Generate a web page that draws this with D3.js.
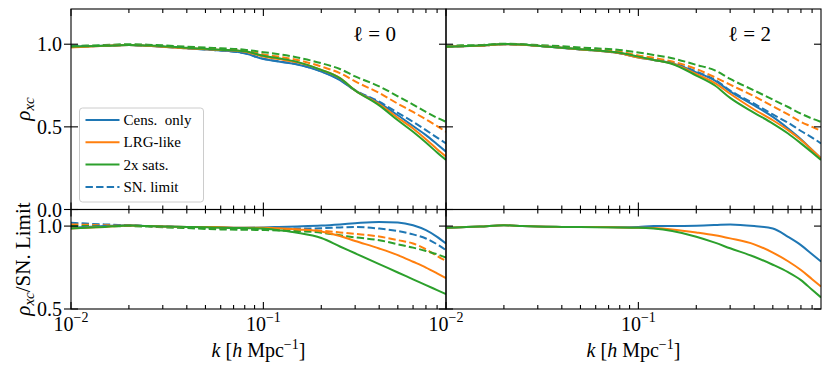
<!DOCTYPE html>
<html>
<head>
<meta charset="utf-8">
<script src="https://cdn.jsdelivr.net/npm/d3@7/dist/d3.min.js"></script>
<style>
  body { margin: 0; background: #fff; }
  text { font-family: "Liberation Serif", "DejaVu Serif", serif; fill: #000; }
</style>
</head>
<body>
<div id="chart"></div>
<script>
// k grid shared by every curve
var kValues = [0.01, 0.012, 0.015, 0.02, 0.025, 0.03, 0.04, 0.05, 0.06, 0.08, 0.1, 0.12, 0.15, 0.2, 0.25, 0.3, 0.4, 0.5, 0.6, 0.7, 0.8, 0.89];

// ell = 0, rho_xc
var l0Cens   = [0.985, 0.987, 0.99, 0.995, 0.99, 0.985, 0.975, 0.968, 0.962, 0.945, 0.91, 0.895, 0.877, 0.835, 0.783, 0.72, 0.645, 0.57, 0.505, 0.45, 0.395, 0.35];
var l0Lrg    = [0.98, 0.985, 0.99, 0.995, 0.99, 0.985, 0.975, 0.97, 0.965, 0.955, 0.925, 0.91, 0.89, 0.845, 0.795, 0.72, 0.638, 0.555, 0.49, 0.425, 0.365, 0.32];
var l0Sats   = [0.985, 0.988, 0.99, 0.995, 0.992, 0.988, 0.978, 0.972, 0.967, 0.957, 0.93, 0.915, 0.893, 0.845, 0.795, 0.72, 0.63, 0.54, 0.47, 0.405, 0.345, 0.30];
var l0CensSN = [0.985, 0.987, 0.99, 0.995, 0.99, 0.985, 0.975, 0.968, 0.962, 0.945, 0.912, 0.897, 0.878, 0.836, 0.785, 0.722, 0.652, 0.585, 0.53, 0.48, 0.435, 0.40];
var l0LrgSN  = [0.985, 0.988, 0.99, 0.995, 0.992, 0.988, 0.978, 0.973, 0.968, 0.96, 0.938, 0.925, 0.905, 0.865, 0.825, 0.775, 0.705, 0.64, 0.59, 0.545, 0.505, 0.47];
var l0SatsSN = [0.99, 0.992, 0.995, 1.0, 0.997, 0.993, 0.985, 0.98, 0.975, 0.967, 0.952, 0.94, 0.92, 0.885, 0.85, 0.805, 0.745, 0.685, 0.635, 0.59, 0.555, 0.53];

// ell = 2, rho_xc
var l2Cens   = [0.985, 0.988, 0.99, 1.0, 0.997, 0.99, 0.978, 0.968, 0.962, 0.945, 0.92, 0.905, 0.885, 0.83, 0.78, 0.715, 0.63, 0.56, 0.49, 0.425, 0.36, 0.31];
var l2Lrg    = [0.985, 0.988, 0.99, 1.0, 0.997, 0.99, 0.978, 0.968, 0.962, 0.945, 0.92, 0.905, 0.883, 0.82, 0.765, 0.70, 0.605, 0.54, 0.48, 0.42, 0.36, 0.31];
var l2Sats   = [0.985, 0.988, 0.992, 1.002, 0.998, 0.99, 0.978, 0.97, 0.963, 0.948, 0.925, 0.905, 0.88, 0.81, 0.75, 0.675, 0.585, 0.52, 0.46, 0.40, 0.345, 0.30];
var l2CensSN = [0.985, 0.988, 0.99, 1.0, 0.997, 0.99, 0.978, 0.968, 0.962, 0.945, 0.922, 0.907, 0.887, 0.835, 0.785, 0.72, 0.64, 0.575, 0.525, 0.475, 0.435, 0.40];
var l2LrgSN  = [0.985, 0.988, 0.99, 1.0, 0.997, 0.99, 0.98, 0.973, 0.968, 0.955, 0.932, 0.918, 0.895, 0.85, 0.80, 0.755, 0.685, 0.625, 0.575, 0.53, 0.50, 0.475];
var l2SatsSN = [0.99, 0.993, 0.995, 1.003, 1.0, 0.995, 0.988, 0.98, 0.975, 0.965, 0.95, 0.935, 0.915, 0.875, 0.842, 0.79, 0.72, 0.665, 0.62, 0.58, 0.55, 0.53];

// ell = 0, ratio to SN. limit
var r0Cens   = [0.99, 0.995, 1.0, 1.005, 1.0, 0.998, 0.995, 0.995, 0.993, 0.99, 0.992, 0.995, 0.998, 1.003, 1.01, 1.017, 1.025, 1.022, 1.005, 0.975, 0.935, 0.895];
var r0Lrg    = [0.985, 0.99, 0.995, 1.003, 1.0, 0.997, 0.995, 0.995, 0.993, 0.99, 0.99, 0.987, 0.98, 0.968, 0.94, 0.91, 0.865, 0.825, 0.785, 0.75, 0.715, 0.686];
var r0Sats   = [0.985, 0.99, 0.995, 1.003, 1.0, 0.997, 0.995, 0.993, 0.99, 0.988, 0.985, 0.975, 0.96, 0.928, 0.877, 0.836, 0.771, 0.72, 0.679, 0.644, 0.614, 0.59];
var r0CensSN = [1.02, 1.015, 1.01, 1.005, 1.0, 0.998, 0.993, 0.99, 0.988, 0.985, 0.983, 0.984, 0.985, 0.987, 0.992, 0.995, 0.985, 0.97, 0.95, 0.925, 0.89, 0.855];
var r0LrgSN  = [1.01, 1.008, 1.005, 1.003, 1.0, 0.997, 0.993, 0.99, 0.988, 0.986, 0.985, 0.983, 0.98, 0.972, 0.962, 0.953, 0.937, 0.915, 0.895, 0.86, 0.82, 0.79];
var r0SatsSN = [1.0, 1.0, 0.998, 1.0, 0.997, 0.993, 0.988, 0.983, 0.98, 0.978, 0.976, 0.974, 0.97, 0.96, 0.945, 0.932, 0.915, 0.89, 0.87, 0.85, 0.83, 0.81];

// ell = 2, ratio to SN. limit
var r2Cens   = [0.99, 0.993, 0.997, 1.005, 1.0, 0.997, 0.995, 0.995, 0.995, 0.993, 0.995, 1.0, 1.0, 1.002, 1.006, 1.01, 1.0, 0.985, 0.935, 0.885, 0.83, 0.786];
var r2Lrg    = [0.99, 0.993, 0.997, 1.005, 1.0, 0.997, 0.995, 0.995, 0.994, 0.992, 0.99, 0.988, 0.98, 0.962, 0.945, 0.926, 0.89, 0.84, 0.788, 0.735, 0.68, 0.636];
var r2Sats   = [0.99, 0.993, 0.997, 1.005, 1.0, 0.997, 0.995, 0.994, 0.993, 0.991, 0.99, 0.985, 0.97, 0.936, 0.90, 0.866, 0.815, 0.767, 0.722, 0.674, 0.616, 0.57];

var legendLabels = ["Cens.  only", "LRG-like", "2x sats.", "SN. limit"];
var colors = ["#1f77b4", "#ff7f0e", "#2ca02c"];

var width = 831, height = 375;
var kDomain = [0.01, 0.89];

var svg = d3.select("#chart").append("svg")
  .attr("width", width).attr("height", height);
svg.append("rect").attr("width", width).attr("height", height).attr("fill", "#fff");

var colLeft = [71, 446], colRight = [446, 821];
var rowTop = [9, 209.5], rowBot = [209.5, 309];

var panels = [
  { id: "tl", xr: colLeft,  yr: rowTop, ydom: [0, 1.213], yticks: [0, 0.5, 1.0], first: true,  bottom: false,
    solid: [l0Cens, l0Lrg, l0Sats], dashed: [l0CensSN, l0LrgSN, l0SatsSN], note: "\u2113 = 0" },
  { id: "tr", xr: colRight, yr: rowTop, ydom: [0, 1.213], yticks: [0, 0.5, 1.0], first: false, bottom: false,
    solid: [l2Cens, l2Lrg, l2Sats], dashed: [l2CensSN, l2LrgSN, l2SatsSN], note: "\u2113 = 2" },
  { id: "bl", xr: colLeft,  yr: rowBot, ydom: [0.5, 1.1], yticks: [0.5, 1.0], first: true,  bottom: true,
    solid: [r0Cens, r0Lrg, r0Sats], dashed: [r0CensSN, r0LrgSN, r0SatsSN] },
  { id: "br", xr: colRight, yr: rowBot, ydom: [0.5, 1.1], yticks: [0.5, 1.0], first: false, bottom: true,
    solid: [r2Cens, r2Lrg, r2Sats], dashed: [] }
];

var majorK = [0.01, 0.1];
var minorK = [];
[0.01, 0.1].forEach(function (d) {
  for (var m = 2; m <= 9; m++) {
    if (d * m <= kDomain[1]) minorK.push(d * m);
  }
});

function addRich(sel, parts) {
  parts.forEach(function (p) {
    var t = sel.append("tspan").text(p.t);
    if (p.it) t.attr("font-style", "italic");
    if (p.size) t.attr("font-size", p.size);
    if (p.dy) t.attr("dy", p.dy);
  });
  return sel;
}

panels.forEach(function (p) {
  var x = d3.scaleLog().domain(kDomain).range(p.xr);
  var y = d3.scaleLinear().domain(p.ydom).range([p.yr[1], p.yr[0]]);

  var g = svg.append("g");
  g.append("clipPath").attr("id", "clip-" + p.id)
    .append("rect")
    .attr("x", p.xr[0]).attr("y", p.yr[0])
    .attr("width", p.xr[1] - p.xr[0]).attr("height", p.yr[1] - p.yr[0]);

  var line = d3.line()
    .x(function (d, i) { return x(kValues[i]); })
    .y(function (d) { return y(d); })
    .curve(d3.curveMonotoneX);

  var plot = g.append("g").attr("clip-path", "url(#clip-" + p.id + ")");

  // dashed first, solid on top; blue, orange, green order
  p.dashed.forEach(function (s, i) {
    plot.append("path").datum(s).attr("d", line)
      .attr("fill", "none").attr("stroke", colors[i])
      .attr("stroke-width", 2).attr("stroke-dasharray", "7.4,3.2");
  });
  p.solid.forEach(function (s, i) {
    plot.append("path").datum(s).attr("d", line)
      .attr("fill", "none").attr("stroke", colors[i])
      .attr("stroke-width", 2);
  });

  // frame
  g.append("rect")
    .attr("x", p.xr[0]).attr("y", p.yr[0])
    .attr("width", p.xr[1] - p.xr[0]).attr("height", p.yr[1] - p.yr[0])
    .attr("fill", "none").attr("stroke", "#000").attr("stroke-width", 1.1);

  // x ticks, inward on bottom and top
  var tk = g.append("g").attr("stroke", "#000").attr("stroke-width", 1.1);
  function xTick(k, len) {
    var px = x(k);
    tk.append("line").attr("x1", px).attr("x2", px).attr("y1", p.yr[1]).attr("y2", p.yr[1] - len);
    tk.append("line").attr("x1", px).attr("x2", px).attr("y1", p.yr[0]).attr("y2", p.yr[0] + len);
  }
  majorK.forEach(function (k) { xTick(k, 7); });
  minorK.forEach(function (k) { xTick(k, 4); });

  // y ticks
  p.yticks.forEach(function (v) {
    var py = y(v);
    tk.append("line").attr("x1", p.xr[0] - (p.first ? 7 : 0)).attr("x2", p.xr[0] + 7).attr("y1", py).attr("y2", py);
    tk.append("line").attr("x1", p.xr[1] - 7).attr("x2", p.xr[1]).attr("y1", py).attr("y2", py);
  });

  if (p.first) {
    p.yticks.forEach(function (v) {
      g.append("text")
        .attr("x", 62).attr("y", y(v) + 7)
        .attr("text-anchor", "end").attr("font-size", 20)
        .text(d3.format(".1f")(v));
    });
  }

  if (p.bottom) {
    majorK.forEach(function (k) {
      var t = g.append("text")
        .attr("x", x(k)).attr("y", 331)
        .attr("text-anchor", "middle").attr("font-size", 20);
      addRich(t, [{ t: "10" }, { t: "\u2212" + (-Math.round(Math.log10(k))), size: 14, dy: -9 }]);
    });
    var cx = (p.xr[0] + p.xr[1]) / 2;
    var xl = g.append("text")
      .attr("x", cx).attr("y", 357)
      .attr("text-anchor", "middle").attr("font-size", 20);
    addRich(xl, [
      { t: "k", it: true }, { t: " [" }, { t: "h", it: true }, { t: " Mpc" },
      { t: "\u22121", size: 14, dy: -8 }, { t: "]", dy: 8 }
    ]);
  }

  if (p.note) {
    g.append("text")
      .attr("x", p.xr[0] + (p.first ? 282 : 282)).attr("y", 41)
      .attr("font-size", 21)
      .text(p.note);
  }
});

// y labels
var yl1 = svg.append("text")
  .attr("transform", "translate(30,109) rotate(-90)")
  .attr("text-anchor", "middle").attr("font-size", 21);
addRich(yl1, [{ t: "\u03c1", it: true }, { t: "xc", it: true, size: 15, dy: 4 }]);

var yl2 = svg.append("text")
  .attr("transform", "translate(30,259) rotate(-90)")
  .attr("text-anchor", "middle").attr("font-size", 21);
addRich(yl2, [
  { t: "\u03c1", it: true }, { t: "xc", it: true, size: 15, dy: 4 },
  { t: "/SN. Limit", dy: -4 }
]);

// legend
var lg = svg.append("g").attr("transform", "translate(79.5,108)");
lg.append("rect")
  .attr("width", 124).attr("height", 94).attr("rx", 3)
  .attr("fill", "#fff").attr("fill-opacity", 0.8)
  .attr("stroke", "#cccccc").attr("stroke-width", 1);
legendLabels.forEach(function (lab, i) {
  var ly = 12 + i * 22.3;
  lg.append("line")
    .attr("x1", 6).attr("x2", 40).attr("y1", ly).attr("y2", ly)
    .attr("stroke", colors[i < 3 ? i : 0]).attr("stroke-width", 2)
    .attr("stroke-dasharray", i === 3 ? "7.4,3.2" : null);
  lg.append("text")
    .attr("x", 44).attr("y", ly + 5)
    .attr("font-size", 15)
    .attr("xml:space", "preserve")
    .style("white-space", "pre")
    .text(lab);
});
</script>
</body>
</html>
